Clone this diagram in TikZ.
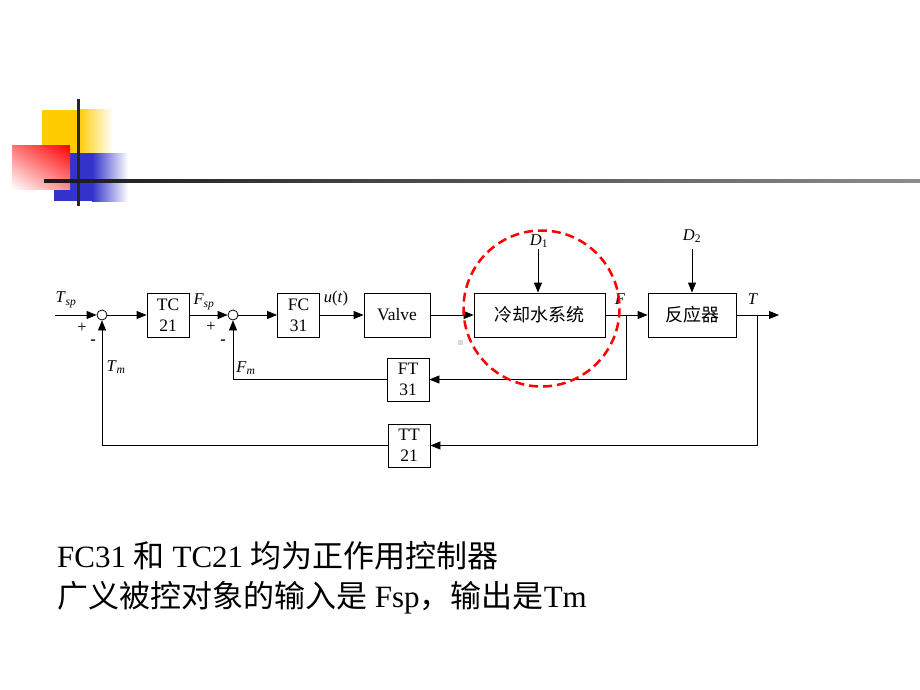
\documentclass[tikz,border=0pt]{standalone}
\usepackage{fontspec}
\setmainfont{Liberation Serif}
\newfontfamily\cjk{Noto Sans CJK SC}
\usetikzlibrary{arrows.meta}
\usetikzlibrary{calc}
\usetikzlibrary{shadings}

\definecolor{slideyellow}{RGB}{255,204,0}
\definecolor{slideblue}{RGB}{51,51,204}

\tikzset{
  block/.style={draw, line width=0.8pt, minimum width=42pt, minimum height=44pt,
    align=center, inner sep=1pt, font=\fontsize{17.5}{21}\selectfont},
  sumnode/.style={draw, circle, line width=0.8pt, minimum size=10pt, inner sep=0pt},
  sig/.style={line width=0.8pt, ->, >={Triangle[length=10pt,width=8pt]}},
  lbl/.style={font=\fontsize{16.5}{18}\selectfont, inner sep=1pt},
}

\begin{document}
\begin{tikzpicture}[x=1pt, y=-1pt]
\useasboundingbox (0,0) rectangle (920,690);

% slide corner decoration
\fill[slideyellow] (42,110) rectangle (78,153);
\shade[left color=slideyellow, right color=white] (78,110) rectangle (113,153);
\fill[slideblue] (54,153) rectangle (92,201);
\shade[left color=slideblue, right color=white] (92,153) rectangle (128,201);
\shade[upper right=red, upper left=red!55!white, lower right=red!45!white, lower left=white] (12,145) rectangle (70,189);
\fill[black!85] (76.5,99) rectangle (79.5,206);
\shade[left color=black!90, right color=black!45] (44,179.5) rectangle (920,182.5);

% blocks
\node[sumnode] (s1) at (102,315) {};
\node[block] (tc) at (168,315) {TC\\21};
\node[sumnode] (s2) at (233,315) {};
\node[block] (fc) at (298.5,315) {FC\\31};
\node[block, minimum width=66pt] (valve) at (397,315) {Valve};
\node[block, minimum width=131pt] (cool) at (539.5,315) {\cjk\fontsize{18}{20}\selectfont 冷却水系统};
\node[block, minimum width=88pt] (rx) at (692,315) {\cjk\fontsize{18}{20}\selectfont 反应器};
\node[block, minimum height=43pt] (ft) at (408,379.5) {FT\\31};
\node[block, minimum height=43pt] (tt) at (409,445.5) {TT\\21};

\coordinate (tspin) at (55,315);
\coordinate (fbr) at (626,315);
\coordinate (tbr) at (757,315);
\coordinate (tout) at (779,315);
\coordinate (d1) at (538,249);
\coordinate (d2) at (692,249);

% forward path
\draw[sig] (tspin) -- (s1);
\draw[sig] (s1) -- (tc);
\draw[sig] (tc) -- (s2);
\draw[sig] (s2) -- (fc);
\draw[sig] (fc) -- (valve);
\draw[sig] (valve) -- (cool);
\draw[sig] (cool) -- (rx);
\draw[sig] (rx) -- (tout);
\draw[sig] (d1) -- (d1 |- cool.north);
\draw[sig] (d2) -- (rx.north);

% feedback paths
\draw[sig] (fbr) |- (ft.east);
\draw[sig] (ft.west) -| (s2.south);
\draw[sig] (tbr) |- (tt.east);
\draw[sig] (tt.west) -| (s1.south);

% signal labels
\node[lbl] (tsplbl) at (66,300) {\textit{T}\textsubscript{\textit{sp}}};
\node[lbl] (p1) at (82,328) {+};
\node[lbl] (m1) at (93,342) {\textbf{-}};
\node[lbl] (tmlbl) at (116,367) {\textit{T}\textsubscript{\textit{m}}};
\node[lbl] (fsplbl) at (204,302) {\textit{F}\textsubscript{\textit{sp}}};
\node[lbl] (p2) at (211,327) {+};
\node[lbl] (m2) at (223,342) {\textbf{-}};
\node[lbl] (fmlbl) at (246,368) {\textit{F}\textsubscript{\textit{m}}};
\node[lbl] (ulbl) at (336,299) {\textit{u}(\textit{t})};
\node[lbl] (d1lbl) at (539,241) {\textit{D}\textsubscript{1}};
\node[lbl] (d2lbl) at (692,236) {\textit{D}\textsubscript{2}};
\node[lbl] (flbl) at (620,299) {\textit{F}};
\node[lbl] (tlbl) at (753,299) {\textit{T}};

% highlight
\draw[red, line width=2.5pt, dash pattern=on 9pt off 5pt] (541.5,308.5) circle (78);
\fill[black!15] (458,340) rectangle (463,345);

% remarks
\node[anchor=west, inner sep=0pt, font=\fontsize{31}{42}\selectfont] (note1) at (57,556)
  {FC31 {\cjk 和} TC21 {\cjk 均为正作用控制器}};
\node[anchor=west, inner sep=0pt, font=\fontsize{31}{42}\selectfont] (note2) at (57,598)
  {{\cjk 广义被控对象的输入是} Fsp{\cjk ，输出是}Tm};
\end{tikzpicture}
\end{document}
